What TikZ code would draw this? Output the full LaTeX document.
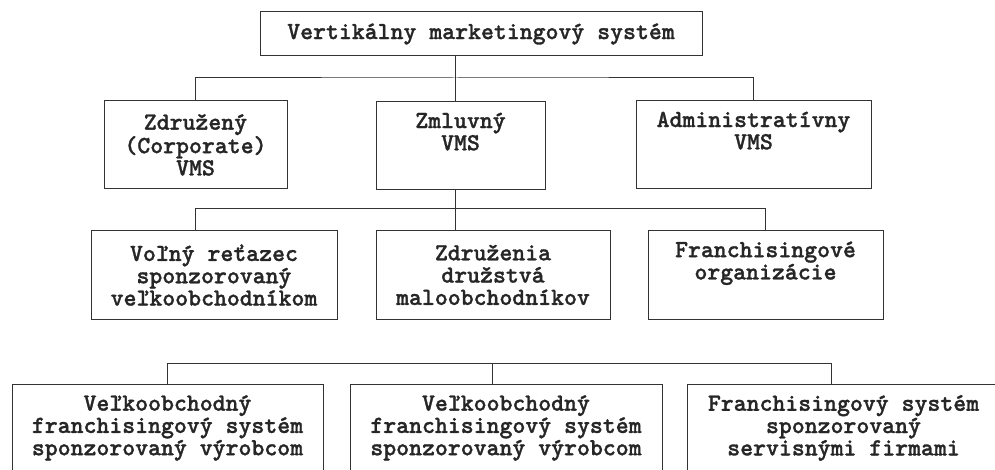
\documentclass[tikz,border=0pt]{standalone}
\usepackage{fontspec}
\newfontfamily\boxfont{lmmonolt10-bold.otf}[FakeBold=1.2]

\begin{document}
\begin{tikzpicture}[x=1pt, y=-1pt,
    box/.style={draw=black!80, line width=1pt, align=center, inner sep=0pt, minimum height=88pt, font=\boxfont\fontsize{24.6}{22.3}\selectfont, text=black!85},
    link/.style={draw=black!80, line width=1pt}
]
\clip (0,0) rectangle (995,470);

% top
\node[box, minimum width=442pt, minimum height=44pt] (vms) at (481,34) {Vertikálny marketingový systém};

% second row
\node[box, minimum width=183pt] (korp) at (195.5,145) {Združený\\(Corporate)\\VMS};
\node[box, minimum width=169pt] (zml) at (460.5,146) {Zmluvný\\VMS\\\strut};
\node[box, minimum width=235pt] (adm) at (753.5,145) {Administratívny\\VMS\\\strut};

% third row
\node[box, minimum width=246pt] (volny) at (214,275) {Voľný reťazec\\sponzorovaný\\veľkoobchodníkom};
\node[box, minimum width=234pt] (druz) at (493,275) {Združenia\\družstvá\\maloobchodníkov};
\node[box, minimum width=235pt] (fran) at (765.5,275) {Franchisingové\\organizácie\\\strut};

% bottom row
\node[box, minimum width=311pt] (vyr1) at (167.5,428) {Veľkoobchodný\\franchisingový systém\\sponzorovaný výrobcom};
\node[box, minimum width=312pt] (vyr2) at (506,428) {Veľkoobchodný\\franchisingový systém\\sponzorovaný výrobcom};
\node[box, minimum width=313pt] (serv) at (843.5,428) {Franchisingový systém\\sponzorovaný\\servisnými firmami};

\coordinate (k1) at (455,78);
\coordinate (k2) at (455,209);
\coordinate (k2l) at (195,209);
\coordinate (k3) at (492,363);
\coordinate (k3r) at (831,363);

\draw[link] (vms.south -| k1) -- (k1);
\draw[link] (korp.north) |- (k1) -| (adm.north);
\draw[link] (k1) -- (zml.north -| k1);

\draw[link] (zml.south -| k2) -- (k2);
\draw[link] (volny.north -| k2l) -- (k2l) -| (fran.north);
\draw[link] (k2) -- (druz.north -| k2);

\draw[link] (vyr1.north) |- (k3r) -- (serv.north -| k3r);
\draw[link] (k3) -- (vyr2.north -| k3);
\end{tikzpicture}
\end{document}
